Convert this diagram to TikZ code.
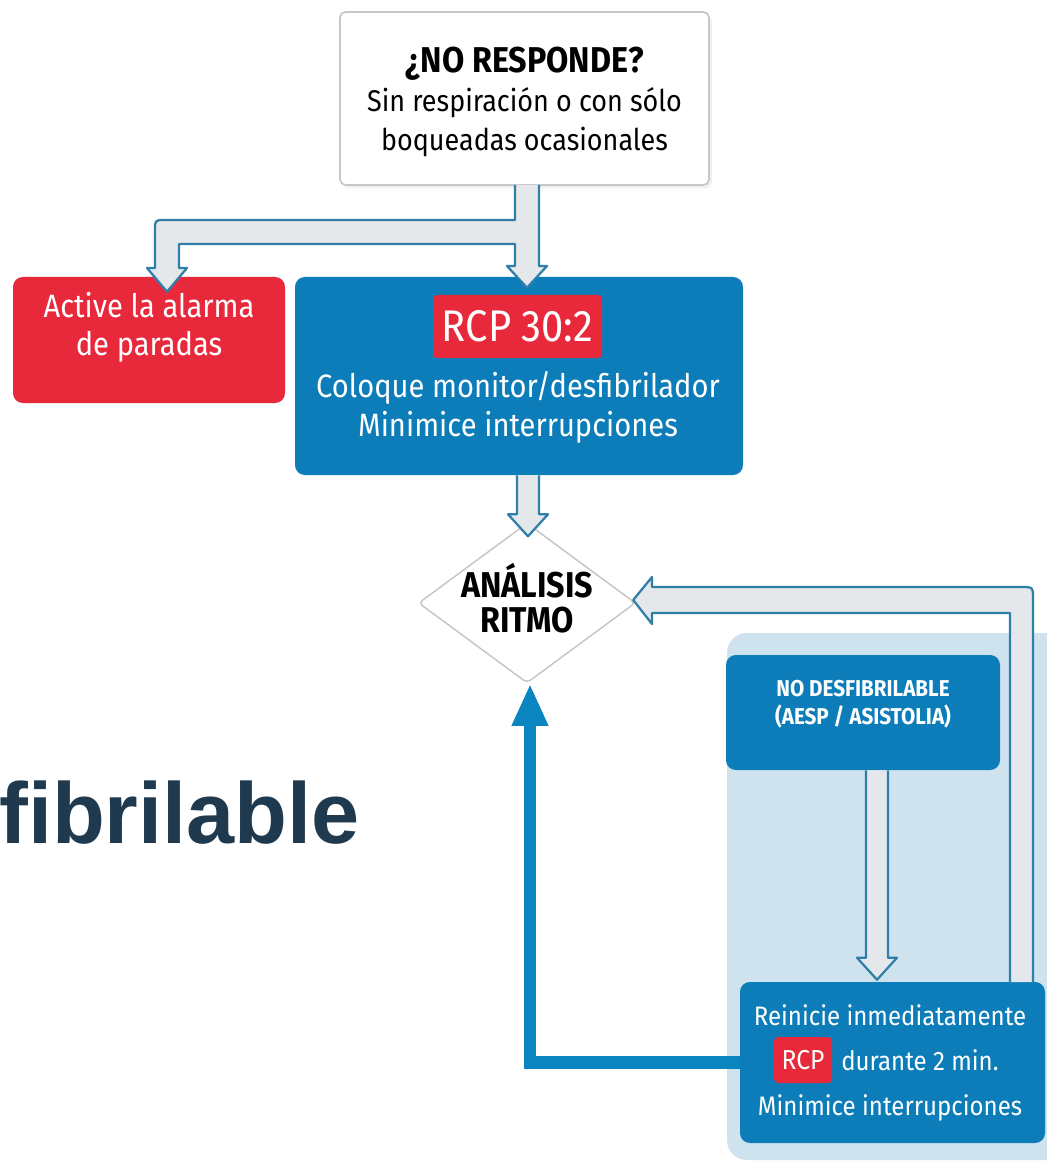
\documentclass[tikz,border=0pt]{standalone}
\usepackage{fontspec}
\setmainfont{Fira Sans}[FakeStretch=0.9]
\newfontfamily\headfont{Liberation Sans}
\usetikzlibrary{shapes.geometric,arrows.meta,calc,fit}

\definecolor{boxblue}{HTML}{0C7DB9}
\definecolor{alarmred}{HTML}{E8293B}
\definecolor{panelblue}{HTML}{CFE3EE}
\definecolor{pipegray}{HTML}{E4E8EB}
\definecolor{pipeedge}{HTML}{2F7FAA}
\definecolor{diamondgray}{HTML}{C4C4C4}
\definecolor{headnavy}{HTML}{1F3A4F}
\definecolor{loopblue}{HTML}{0A85C0}

\tikzset{
  topbox/.style={fill=white, draw=black!22, line width=1.2pt, rounded corners=4pt, inner sep=0pt},
  bluebox/.style={fill=boxblue, rounded corners=7pt, inner sep=0pt, text=white, align=center},
  redbox/.style={fill=alarmred, rounded corners=7pt, inner sep=0pt, text=white, align=center},
  tagbox/.style={fill=alarmred, rounded corners=3pt, inner sep=0pt, text=white},
  whitetext/.style={text=white, align=center, inner sep=0pt},
  rhythmtext/.style={anchor=base, inner sep=0pt, font=\bfseries\fontsize{25.5}{25}\selectfont},
  pipefill/.style={fill=pipegray},
  pipeline/.style={draw=pipeedge, line width=1.6pt, line join=round},
  loopback/.style={draw=loopblue, line width=9pt, -{Triangle[width=24pt,length=30pt]}},
}

% hollow downward arrow: #1 start point, #2 tip point (same x)
\newcommand\hollowdown[2]{%
  \fill[pipefill] ($(#1)+(-11,0)$) -- ($(#2)+(-11,-22)$) -- ($(#2)+(-20,-22)$) -- (#2)
    -- ($(#2)+(20,-22)$) -- ($(#2)+(11,-22)$) -- ($(#1)+(11,0)$) -- cycle;
  \draw[pipeline] ($(#1)+(-11,0)$) -- ($(#2)+(-11,-22)$) -- ($(#2)+(-20,-22)$) -- (#2)
    -- ($(#2)+(20,-22)$) -- ($(#2)+(11,-22)$) -- ($(#1)+(11,0)$);
}

\begin{document}
\begin{tikzpicture}[x=0.025cm, y=-0.025cm]
\useasboundingbox (0,0) rectangle (1046,1161);
\fill[white] (0,0) rectangle (1046,1161);

% light panel behind the non-shockable branch
\fill[panelblue, rounded corners=14pt] (727,633) rectangle (1080,1160);

% heading fragment
\node[anchor=base west, inner sep=0pt, text=headnavy,
      font=\headfont\bfseries\fontsize{61.5}{70}\selectfont] (title) at (-1,843) {fibrilable};

% boxes
\fill[black!6, rounded corners=4pt] (342,15) rectangle (712,188);
\node[topbox, fit={(340,12)(709,185)}] (ask) {};
\node[align=center, inner sep=0pt, font=\fontsize{21.3}{28}\selectfont] (asktext) at (524.5,102)
  {{\fontsize{25.5}{28}\selectfont\bfseries ¿NO RESPONDE?}\\
   Sin respiración o con sólo\\boqueadas ocasionales};

\node[redbox, fit={(13,277)(285,403)}, font=\fontsize{23}{27.5}\selectfont] (alarm)
  {Active la alarma\\de paradas};

\node[bluebox, fit={(295,277)(743,475)}] (cpr) {};
\node[tagbox, minimum width=169*0.025cm, minimum height=63*0.025cm,
      font=\fontsize{31.5}{31.5}\selectfont] (cprtag) at (517.5,326.5) {RCP 30:2};
\node[whitetext, font=\fontsize{23}{27.7}\selectfont] (cprtext) at (518,407)
  {Coloque monitor/desfibrilador\\Minimice interrupciones};

\node[diamond, draw=diamondgray, fill=white, line width=1pt, inner sep=0pt,
      minimum width=217*0.025cm, minimum height=160*0.025cm, rounded corners=3pt] (rhythm) at (527,603) {};
\node[rhythmtext] (rhythm1) at (527,597) {ANÁLISIS};
\node[rhythmtext] (rhythm2) at (527,632) {RITMO};

\node[bluebox, fit={(726,655)(1000,770)}, font=\bfseries\fontsize{16.3}{20}\selectfont] (nonshock)
  {NO DESFIBRILABLE\\(AESP / ASISTOLIA)};

\node[bluebox, fit={(740,982)(1045,1143)}] (restart) {};
\node[whitetext, font=\fontsize{19}{24}\selectfont] (restart1) at (890,1015) {Reinicie inmediatamente};
\node[tagbox, minimum width=58*0.025cm, minimum height=46*0.025cm,
      font=\fontsize{19.5}{24}\selectfont] (restarttag) at (803,1060) {RCP};
\node[whitetext, anchor=west, font=\fontsize{19}{24}\selectfont] (restart2) at (841,1060) {durante 2 min.};
\node[whitetext, font=\fontsize{19}{24}\selectfont] (restart3) at (890,1108) {Minimice interrupciones};

% split arrow from the first question
\coordinate (splittip) at ($(cpr.north)+(8,11)$);
\coordinate (alarmtip) at ($(alarm.north)+(18,15)$);
\fill[pipefill] (515,185) -- (515,220) -- (165,220) .. controls (155,220) .. (155,230)
  -- (155,268) -- (147,268) -- (alarmtip) -- (187,268) -- (179,268) -- (179,244)
  -- (515,244) -- (515,266) -- (507,266) -- (splittip) -- (547,266) -- (539,266) -- (539,185) -- cycle;
\draw[pipeline] (515,185) -- (515,220) -- (165,220) .. controls (155,220) .. (155,230)
  -- (155,268) -- (147,268) -- (alarmtip) -- (187,268) -- (179,268) -- (179,244)
  -- (515,244) -- (515,266) -- (507,266) -- (splittip) -- (547,266) -- (539,266) -- (539,185);

% straight hollow arrows
\coordinate (cprout) at ($(cpr.south)+(9,0)$);
\coordinate (rhythmin) at ($(rhythm.north)+(1,14)$);
\hollowdown{cprout}{rhythmin}
\coordinate (nonshockout) at ($(nonshock.south)+(14,0)$);
\coordinate (restartin) at ($(restart.north)+(-15.5,-2)$);
\hollowdown{nonshockout}{restartin}

% hollow return arrow to the rhythm check
\coordinate (returntip) at ($(rhythm.east)+(-3,-3)$);
\fill[pipefill] (1010,982) -- (1010,613) -- (652,613) -- (652,624) -- (returntip) -- (652,577)
  -- (652,587) -- (1021,587) .. controls (1033,587) .. (1033,599) -- (1033,982) -- cycle;
\draw[pipeline] (1010,982) -- (1010,613) -- (652,613) -- (652,624) -- (returntip) -- (652,577)
  -- (652,587) -- (1021,587) .. controls (1033,587) .. (1033,599) -- (1033,982);

% solid return arrow
\draw[loopback] (restart.west) -| ($(rhythm.south)+(3,0)$);
\end{tikzpicture}
\end{document}
